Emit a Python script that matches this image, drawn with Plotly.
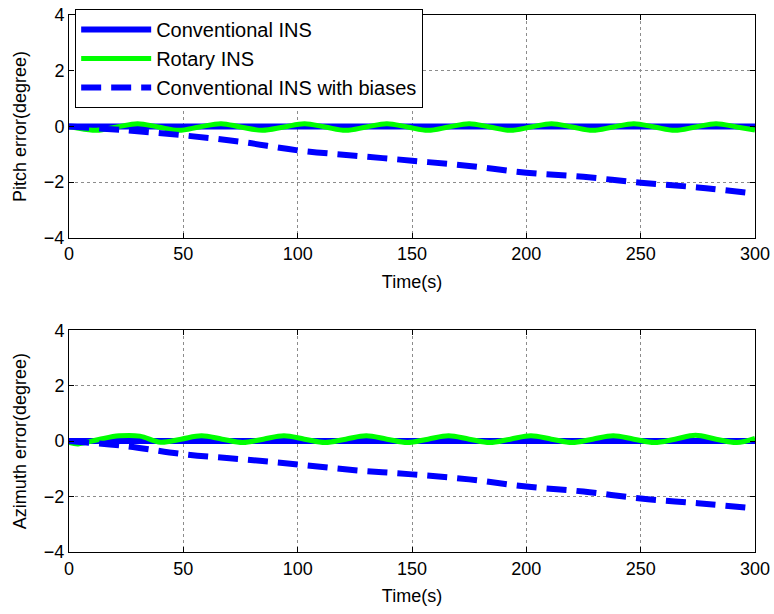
import plotly.graph_objects as go

# time axis samples (s)
t_dash = [0, 25, 50, 75, 100, 125, 150, 175, 200, 225, 250, 275, 300]
t_flat = [0, 300]
t_rot_top = [0, 3, 12, 21, 30, 39, 48, 57, 66.5, 75, 84.5, 94, 103, 112, 121, 130,
             139, 148, 157, 166, 175, 184, 193, 202, 211, 220, 229, 238, 247, 256,
             265, 274, 283, 292, 300]
t_rot_bot = [0, 4, 13, 22, 31, 40, 49, 58, 67, 76, 85, 94, 103, 112, 121, 130, 139,
             148, 157, 166, 175, 184, 193, 202, 211, 220, 229, 238, 247, 256, 265,
             274, 283, 292, 300]

# pitch error (degree)
pitch_conv = [0, 0]
pitch_rot = [0, -0.05, -0.14, -0.02, 0.1, -0.02, -0.14, -0.02, 0.1, -0.02, -0.14,
             -0.02, 0.1, -0.02, -0.14, -0.02, 0.1, -0.02, -0.14, -0.02, 0.1, -0.02,
             -0.14, -0.02, 0.1, -0.02, -0.14, -0.02, 0.1, -0.02, -0.14, -0.02, 0.1,
             -0.02, -0.13]
pitch_bias = [0, -0.14, -0.32, -0.55, -0.86, -1.05, -1.23, -1.42, -1.66, -1.81,
              -2.02, -2.19, -2.41]

# azimuth error (degree)
azi_conv = [0, 0]
azi_rot = [-0.05, -0.1, 0.06, 0.19, 0.18, -0.04, 0.07, 0.19, 0.07, -0.05, 0.07,
           0.19, 0.07, -0.05, 0.07, 0.19, 0.07, -0.05, 0.07, 0.19, 0.07, -0.05, 0.07,
           0.19, 0.07, -0.05, 0.07, 0.19, 0.07, -0.05, 0.07, 0.21, 0.07, -0.05, 0.1]
azi_bias = [0, -0.18, -0.47, -0.65, -0.84, -1.05, -1.2, -1.38, -1.64, -1.82, -2.07,
            -2.24, -2.43]

BLUE = '#0000ff'
GREEN = '#00ff00'
FONT = 'Liberation Sans, Arial, sans-serif'

fig = go.Figure()

panels = [
    ('x', 'y', t_rot_top, pitch_conv, pitch_rot, pitch_bias, True),
    ('x2', 'y2', t_rot_bot, azi_conv, azi_rot, azi_bias, False),
]
for xa, ya, t_rot, conv, rot, bias, show in panels:
    fig.add_trace(go.Scatter(x=t_flat, y=conv, mode='lines', name='Conventional INS',
                             line=dict(color=BLUE, width=6), xaxis=xa, yaxis=ya,
                             showlegend=show))
    fig.add_trace(go.Scatter(x=t_rot, y=rot, mode='lines', name='Rotary INS',
                             line=dict(color=GREEN, width=5, shape='spline'),
                             xaxis=xa, yaxis=ya, showlegend=show))
    fig.add_trace(go.Scatter(x=t_dash, y=bias, mode='lines', name='Conventional INS with biases',
                             line=dict(color=BLUE, width=6, dash='20px,10px', shape='spline'),
                             xaxis=xa, yaxis=ya, showlegend=show))

ax_common = dict(
    showline=True, linecolor='black', linewidth=1, mirror='ticks',
    ticks='inside', ticklen=5, tickcolor='black',
    showgrid=True, gridcolor='#8c8c8c', griddash='dot', gridwidth=1,
    zeroline=False, automargin=False, ticklabeloverflow='allow',
    tickfont=dict(size=18, color='black', family=FONT),
)
xticks = [0, 50, 100, 150, 200, 250, 300]
yticks = [-4, -2, 0, 2, 4]

fig.update_layout(
    width=774, height=614,
    paper_bgcolor='white', plot_bgcolor='white',
    margin=dict(l=69, r=19, t=15, b=62, autoexpand=False),
    font=dict(family=FONT, color='black', size=18),
    xaxis=dict(ax_common, domain=[0, 1], range=[0, 300], tickvals=xticks, anchor='y',
               title=dict(text='Time(s)', standoff=11, font=dict(size=18))),
    yaxis=dict(ax_common, domain=[0.585, 1], range=[-4, 4], tickvals=yticks, anchor='x',
               title=dict(text='Pitch error(degree)', standoff=12, font=dict(size=18))),
    xaxis2=dict(ax_common, domain=[0, 1], range=[0, 300], tickvals=xticks, anchor='y2',
                title=dict(text='Time(s)', standoff=11, font=dict(size=18))),
    yaxis2=dict(ax_common, domain=[0, 0.413], range=[-4, 4], tickvals=yticks, anchor='x2',
                title=dict(text='Azimuth error(degree)', standoff=12, font=dict(size=18))),
    legend=dict(x=0.009, y=1.011, xanchor='left', yanchor='top',
                bgcolor='white', bordercolor='black', borderwidth=1, itemwidth=70,
                font=dict(size=20, family=FONT, color='black'), tracegroupgap=0),
)

# drop the default page margin so the figure sits at the window corner
fig.write_html("out.html", config={'displayModeBar': False},
               post_script="document.body.style.margin='0';")
